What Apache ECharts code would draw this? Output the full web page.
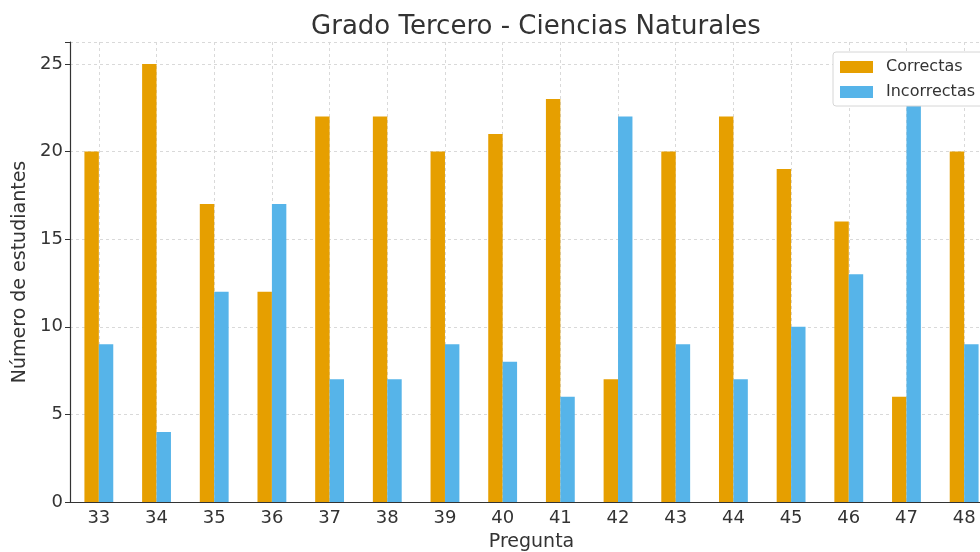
<!DOCTYPE html>
<html>
<head>
<meta charset="utf-8">
<script src="https://cdn.jsdelivr.net/npm/echarts@6/dist/echarts.min.js"></script>
<style>
  html, body { margin: 0; padding: 0; background: #fff; }
  #chart { width: 980px; height: 552px; }
</style>
</head>
<body>
<div id="chart"></div>
<script>
  // datos
  var preguntas = ['33','34','35','36','37','38','39','40','41','42','43','44','45','46','47','48'];
  var correctas = [20, 25, 17, 12, 22, 22, 20, 21, 23, 7, 20, 22, 19, 16, 6, 20];
  var incorrectas = [9, 4, 12, 17, 7, 7, 9, 8, 6, 22, 9, 7, 10, 13, 23, 9];
  var yTicks = [0, 5, 10, 15, 20, 25];

  var font = 'DejaVu Sans';
  var myChart = echarts.init(document.getElementById('chart'));
  var option = {
    animation: false,
    textStyle: { fontFamily: font },
    title: {
      text: 'Grado Tercero - Ciencias Naturales',
      left: 531,
      textAlign: 'center',
      top: 9,
      textStyle: { fontFamily: font, fontSize: 26, fontWeight: 'normal', color: '#333' }
    },
    legend: {
      orient: 'vertical',
      left: 833,
      top: 52,
      padding: [7, 8, 6, 7],
      itemGap: 9,
      itemWidth: 33,
      itemHeight: 12,
      borderColor: '#d6d6d6',
      borderWidth: 1,
      borderRadius: 3,
      backgroundColor: '#fff',
      icon: 'rect',
      textStyle: { fontFamily: font, fontSize: 16, color: '#333', padding: [0, 0, 0, 8] },
      data: ['Correctas', 'Incorrectas']
    },
    grid: { left: 70, width: 923, top: 42, bottom: 50, outerBoundsMode: 'none', containLabel: false },
    xAxis: {
      type: 'category',
      data: preguntas,
      name: 'Pregunta',
      nameLocation: 'middle',
      nameGap: 31,
      nameTextStyle: { fontFamily: font, fontSize: 19, color: '#333' },
      axisLine: { lineStyle: { color: '#333', width: 1.2 } },
      axisTick: { alignWithLabel: true, length: 5, lineStyle: { color: '#333' } },
      axisLabel: { fontFamily: font, fontSize: 18, color: '#333', margin: 7 },
      splitLine: { show: true, alignWithLabel: true, lineStyle: { color: '#d9d9d9', type: [3, 3] } }
    },
    yAxis: {
      type: 'value',
      min: 0,
      max: 26.25,
      interval: 5,
      name: 'Número de estudiantes',
      nameLocation: 'middle',
      nameGap: 38,
      nameTextStyle: { fontFamily: font, fontSize: 19, color: '#333' },
      axisLine: { show: true, lineStyle: { color: '#333', width: 1.2 } },
      axisTick: { show: true, length: 5, lineStyle: { color: '#333' } },
      axisLabel: {
        fontFamily: font, fontSize: 18, color: '#333', margin: 7,
        formatter: function (v) { return yTicks.indexOf(v) >= 0 ? String(v) : ''; }
      },
      splitLine: { show: true, lineStyle: { color: '#d9d9d9', type: [3, 3] } }
    },
    series: [
      {
        name: 'Correctas',
        type: 'bar',
        data: correctas,
        barWidth: '25%',
        barGap: '0%',
        itemStyle: { color: '#E69F00' }
      },
      {
        name: 'Incorrectas',
        type: 'bar',
        data: incorrectas,
        barWidth: '25%',
        barGap: '0%',
        itemStyle: { color: '#56B4E9' }
      }
    ]
  };
  myChart.setOption(option);
</script>
</body>
</html>
